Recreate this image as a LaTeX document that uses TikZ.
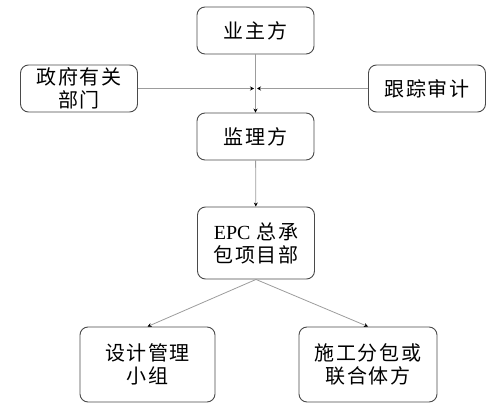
\documentclass[tikz,border=0pt]{standalone}
\usepackage{fontspec}
\setmainfont{Liberation Serif}
\newfontfamily\cjk[LetterSpace=8]{Noto Sans CJK SC}
\usetikzlibrary{arrows.meta,positioning}
\definecolor{boxline}{HTML}{4A4A4A}
\definecolor{linkgray}{HTML}{9C9C9C}
\tikzset{
    orgbox/.style={draw=boxline,rounded corners=8pt,line width=0.9pt,
      minimum width=117pt,minimum height=47pt,inner sep=2pt,
      align=center,font=\cjk\fontsize{20}{23}\selectfont},
    linkarrow/.style={draw=linkgray,line width=0.8pt,
      -{Stealth[length=4pt,width=4pt,color=black]}}
}
\begin{document}
\begin{tikzpicture}[x=1pt,y=-1pt]
  \useasboundingbox (0,0) rectangle (500,409);
  \node[orgbox] (owner) at (255.5,30.5) {业主方};
  \node[orgbox] (gov) at (79,88.5) {政府有关\\部门};
  \node[orgbox] (audit) at (427,88.5) {跟踪审计};
  \node[orgbox] (super) at (255.5,136.5) {监理方};
  \node[orgbox,minimum height=72pt] (epc) at (256,243) {{\rmfamily EPC} 总承\\包项目部};
  \node[orgbox,minimum width=135pt,minimum height=75pt] (design) at (147.5,364.5) {设计管理\\小组};
  \node[orgbox,minimum width=138pt,minimum height=75pt] (build) at (368,364.5) {施工分包或\\联合体方};
  % meeting point on the vertical line
  \coordinate (meetL) at (254,88.5);
  \coordinate (meetR) at (257,88.5);
  \draw[linkarrow] (owner)--(super);
  \draw[linkarrow] (gov.east)--(meetL);
  \draw[linkarrow] (audit.west)--(meetR);
  \draw[linkarrow] (super)--(epc);
  \draw[linkarrow] (epc.south)--(design.north);
  \draw[linkarrow] (epc.south)--(build.north);
\end{tikzpicture}
\end{document}
